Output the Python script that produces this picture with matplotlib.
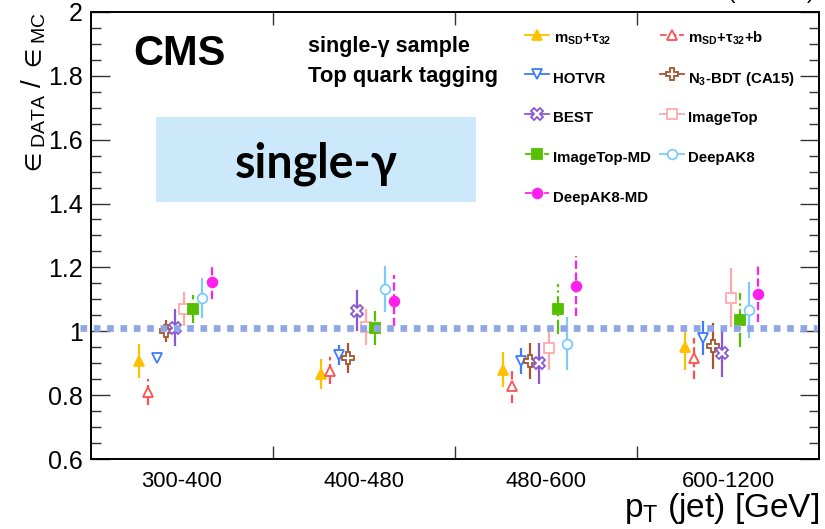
import matplotlib
matplotlib.use("Agg")
import matplotlib.pyplot as plt
from matplotlib.lines import Line2D
from matplotlib.patches import Rectangle
from matplotlib.ticker import MultipleLocator, FixedLocator, NullFormatter, FixedFormatter
import numpy as np

plt.rcParams['font.family'] = ['Liberation Sans', 'DejaVu Sans']
plt.rcParams['mathtext.fontset'] = 'custom'
plt.rcParams['mathtext.rm'] = 'Liberation Sans'
plt.rcParams['mathtext.it'] = 'Liberation Sans:italic'
plt.rcParams['mathtext.bf'] = 'Liberation Sans:bold'
plt.rcParams['mathtext.fallback'] = 'stixsans'

# jet pT bins
pt_bins = ["300-400", "400-480", "480-600", "600-1200"]

# data/MC efficiency scale factors and uncertainties per tagger
msd_tau32 = [0.908, 0.867, 0.880, 0.950]
msd_tau32_err = [0.053, 0.047, 0.054, 0.071]
msd_tau32_b = [0.811, 0.877, 0.830, 0.916]
msd_tau32_b_err = [0.041, 0.043, 0.054, 0.064]
hotvr = [0.917, 0.926, 0.908, 0.979]
hotvr_err = [0.012, 0.031, 0.040, 0.053]
n3_bdt = [1.001, 0.917, 0.908, 0.954]
n3_bdt_err = [0.035, 0.046, 0.057, 0.072]
best = [1.011, 1.064, 0.900, 0.932]
best_err = [0.058, 0.064, 0.065, 0.075]
imagetop = [1.070, 1.014, 0.948, 1.105]
imagetop_err = [0.052, 0.055, 0.068, 0.092]
imagetop_md = [1.070, 1.011, 1.070, 1.036]
imagetop_md_err = [0.043, 0.054, 0.078, 0.085]
deepak8 = [1.105, 1.133, 0.961, 1.067]
deepak8_err = [0.062, 0.072, 0.083, 0.087]
deepak8_md = [1.155, 1.096, 1.142, 1.117]
deepak8_md_err = [0.053, 0.080, 0.093, 0.088]

reference_sf = 1.01

# label, values, errors, colour, marker, filled, error-bar style
taggers = [
    ("m$_{\\mathbf{SD}}$+τ$_{\\mathbf{32}}$", msd_tau32, msd_tau32_err, "#ffc000", "^", True, "-"),
    ("m$_{\\mathbf{SD}}$+τ$_{\\mathbf{32}}$+b", msd_tau32_b, msd_tau32_b_err, "#ff5050", "^", False, "--"),
    ("HOTVR", hotvr, hotvr_err, "#3d7bff", "v", False, "-"),
    ("N$_{\\mathbf{3}}$-BDT (CA15)", n3_bdt, n3_bdt_err, "#a65530", "P", False, "-"),
    ("BEST", best, best_err, "#8a58d4", "X", False, "-"),
    ("ImageTop", imagetop, imagetop_err, "#ffaaaa", "s", False, "-"),
    ("ImageTop-MD", imagetop_md, imagetop_md_err, "#55c000", "s", True, "-."),
    ("DeepAK8", deepak8, deepak8_err, "#7ccbff", "o", False, "-"),
    ("DeepAK8-MD", deepak8_md, deepak8_md_err, "#ff20ee", "o", True, "--"),
]

fig = plt.figure(figsize=(8.25, 5.29), dpi=100)
ax = fig.add_axes([0.110, 0.1318, 0.8833, 0.8461])

bin_idx = np.arange(len(pt_bins))
handles = []
for i, (label, vals, errs, col, mk, filled, ls) in enumerate(taggers):
    xs = bin_idx + 0.263 + 0.05 * i
    ms = 8 if mk in ("P", "X") else 7
    cont = ax.errorbar(xs, vals, yerr=errs, fmt=mk, color=col, ms=ms,
                       mfc=col if filled else "white", mec=col, mew=1.3,
                       elinewidth=1.6, capsize=0, zorder=3)
    for bl in cont[2]:
        bl.set_linestyle(ls)
    handles.append(Line2D([], [], color=col, linestyle=ls, lw=1.3, marker=mk,
                          ms=ms, mfc=col if filled else "white", mec=col, mew=1.3))

# reference line across the plot
ax.plot([-0.015, 0.9966], [reference_sf, reference_sf], transform=ax.get_yaxis_transform(),
        color="#8fa6e6", lw=4.8, dashes=(1, 1), dash_capstyle="butt",
        clip_on=False, zorder=4)

ax.set_xlim(0, 4)
ax.set_ylim(0.6, 2.0)

# x axis: bin boundaries as ticks, bin names centred
ax.xaxis.set_major_locator(FixedLocator([1, 2, 3]))
ax.xaxis.set_major_formatter(NullFormatter())
ax.xaxis.set_minor_locator(FixedLocator(bin_idx + 0.5))
ax.xaxis.set_minor_formatter(FixedFormatter(pt_bins))
ax.tick_params(axis="x", which="major", direction="in", length=9.5, width=1.0,
               top=True, bottom=True, color="#333333")
ax.tick_params(axis="x", which="minor", length=0, pad=8.5, labelsize=15.8)

ax.yaxis.set_major_locator(MultipleLocator(0.2))
ax.yaxis.set_minor_locator(MultipleLocator(0.05))
ax.yaxis.set_major_formatter(plt.FuncFormatter(lambda v, p: f"{v:g}"))
ax.tick_params(axis="y", which="major", direction="in", length=13.5, width=1.0,
               left=True, right=True, labelsize=18, pad=5.5, color="#333333")
ax.tick_params(axis="y", which="minor", direction="in", length=7, width=1.0,
               left=True, right=True, color="#333333")

for sp in ax.spines.values():
    sp.set_linewidth(1.4)

ax.set_ylabel(r"$\in_{\mathrm{DATA}}$ / $\in_{\mathrm{MC}}$", fontsize=20, loc="top")
ax.yaxis.set_label_coords(-0.058, 1.0)
ax.set_xlabel(r"p$_{\mathrm{T}}$ (jet) [GeV]", fontsize=24, loc="right")
ax.xaxis.set_label_coords(1.0, -0.07)

# legend in two columns
order = [0, 2, 4, 6, 8, 1, 3, 5, 7]
ax.legend([handles[k] for k in order], [taggers[k][0] for k in order],
          ncol=2, loc="upper left", bbox_to_anchor=(525 / 825, 1 - 26.5 / 529),
          bbox_transform=fig.transFigure, frameon=False, borderpad=0,
          borderaxespad=0, prop={"weight": "bold", "size": 10.8},
          handlelength=1.6, handleheight=2.0, handletextpad=0.3,
          labelspacing=1.1, columnspacing=0.55)

# headers
fig.text(133 / 825, 1 - 65 / 529, "CMS", fontsize=30, fontweight="bold", va="baseline")
fig.text(308 / 825, 1 - 52 / 529, "single-γ sample", fontsize=15.5,
         fontweight="bold", va="baseline")
fig.text(308 / 825, 1 - 82 / 529, "Top quark tagging", fontsize=15.8,
         fontweight="bold", va="baseline")
fig.text(815 / 825, 1 + 1.5 / 529, r"35.9 fb$^{-1}$ (13 TeV)", fontsize=16,
         ha="right", va="baseline")

# highlighted sample tag
fig.patches.append(Rectangle((156 / 825, 1 - 202 / 529), 320 / 825, 85 / 529,
                             transform=fig.transFigure, facecolor="#cbe9fa",
                             edgecolor="none", zorder=5))
fig.text(316 / 825, 1 - 177 / 529, "single-γ", fontsize=33.5, fontweight="bold",
         family=["Lato", "Open Sans", "DejaVu Sans"], ha="center", va="baseline",
         zorder=6)

fig.savefig("out.png", dpi=100)
